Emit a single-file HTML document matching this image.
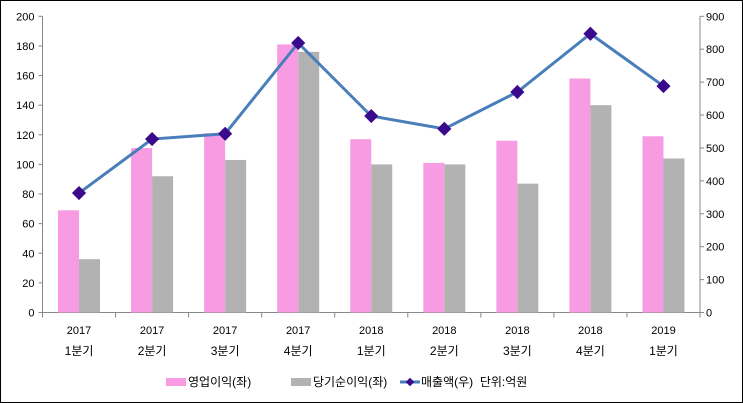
<!DOCTYPE html>
<html><head><meta charset="utf-8"><style>
body{margin:0;background:#fff}
svg{display:block;font-family:"Liberation Sans","Noto Sans CJK KR",sans-serif}
</style></head><body>
<svg id="c" width="743" height="403">
<rect x="0.5" y="0.5" width="742" height="402" fill="#fff" stroke="#000"/>
</svg>
<script>
const years=["2017","2017","2017","2017","2018","2018","2018","2018","2019"];
const quarters=["1분기","2분기","3분기","4분기","1분기","2분기","3분기","4분기","1분기"];
const opProfit=[69,111,121,181,117,101,116,158,119];
const netProfit=[36,92,103,176,100,100,87,140,104];
const sales=[363,527,543,819,597,558,670,847,688];
const leftTicks=[0,20,40,60,80,100,120,140,160,180,200];
const rightTicks=[0,100,200,300,400,500,600,700,800,900];
const svg=document.getElementById('c');const NS='http://www.w3.org/2000/svg';
function mk(t,a,p){const e=document.createElementNS(NS,t);for(const k in a)e.setAttribute(k,a[k]);(p||svg).appendChild(e);return e;}
const X0=42.5,X1=700,Y0=312.5,Y1=16.3,n=years.length,cw=(X1-X0)/n;
const yl=v=>Y0-(v/200)*(Y0-Y1), yr=v=>Y0-(v/900)*(Y0-Y1), xc=i=>X0+cw*(i+0.5);
let e;
e=mk('line',{x1:X0,y1:Y1,x2:X0,y2:Y0,stroke:'#888'});
e=mk('line',{x1:X1,y1:Y1,x2:X1,y2:Y0,stroke:'#888'});
e=mk('line',{x1:X0,y1:Y0,x2:X1,y2:Y0,stroke:'#888'});
leftTicks.forEach(v=>{mk('line',{x1:X0-4,x2:X0,y1:yl(v),y2:yl(v),stroke:'#888'});
 e=mk('text',{x:X0-8,y:yl(v)+4,'text-anchor':'end','font-size':11,fill:'#000'});e.textContent=v;
 });
rightTicks.forEach(v=>{mk('line',{x1:X1,x2:X1+4,y1:yr(v),y2:yr(v),stroke:'#888'});
 e=mk('text',{x:X1+6,y:yr(v)+4,'font-size':11,fill:'#000'});e.textContent=v;
 });
for(let i=0;i<=n;i++)mk('line',{x1:X0+cw*i,x2:X0+cw*i,y1:Y0,y2:Y0+5,stroke:'#888'});
years.forEach((y,i)=>{
 e=mk('text',{x:xc(i),y:334,'text-anchor':'middle','font-size':11});e.textContent=y;
 
 e=mk('text',{x:xc(i),y:355,'text-anchor':'middle','font-size':12});e.textContent=quarters[i];
 
 const bw=21;
 e=mk('rect',{x:xc(i)-bw,y:yl(opProfit[i]),width:bw,height:Y0-yl(opProfit[i]),fill:'#f79ce2'});
 
 e=mk('rect',{x:xc(i),y:yl(netProfit[i]),width:bw,height:Y0-yl(netProfit[i]),fill:'#b2b2b2'});
 
});
e=mk('polyline',{points:sales.map((v,i)=>xc(i)+','+yr(v)).join(' '),fill:'none',stroke:'#4a7ebb','stroke-width':3});

sales.forEach((v,i)=>{e=mk('rect',{x:xc(i)-4.5,y:yr(v)-4.5,width:9,height:9,fill:'#3b0a8c',stroke:'#3b0a8c',transform:`rotate(45 ${xc(i)} ${yr(v)})`});
 });
const lg=mk('g',{});
mk('rect',{x:166,y:378,width:20,height:8,fill:'#f79ce2'},lg);
e=mk('text',{x:188,y:386,'font-size':12},lg);e.textContent='영업이익(좌)';
mk('rect',{x:291,y:378,width:20,height:8,fill:'#b2b2b2'},lg);
e=mk('text',{x:313,y:386,'font-size':12},lg);e.textContent='당기순이익(좌)';
mk('line',{x1:400,x2:420,y1:382,y2:382,stroke:'#4a7ebb','stroke-width':3},lg);
mk('rect',{x:407,y:379,width:6,height:6,fill:'#3b0a8c',transform:'rotate(45 410 382)'},lg);
e=mk('text',{x:421,y:386,'font-size':12},lg);e.textContent='매출액(우)\u00a0\u00a0단위:억원';
</script>
</body></html>
